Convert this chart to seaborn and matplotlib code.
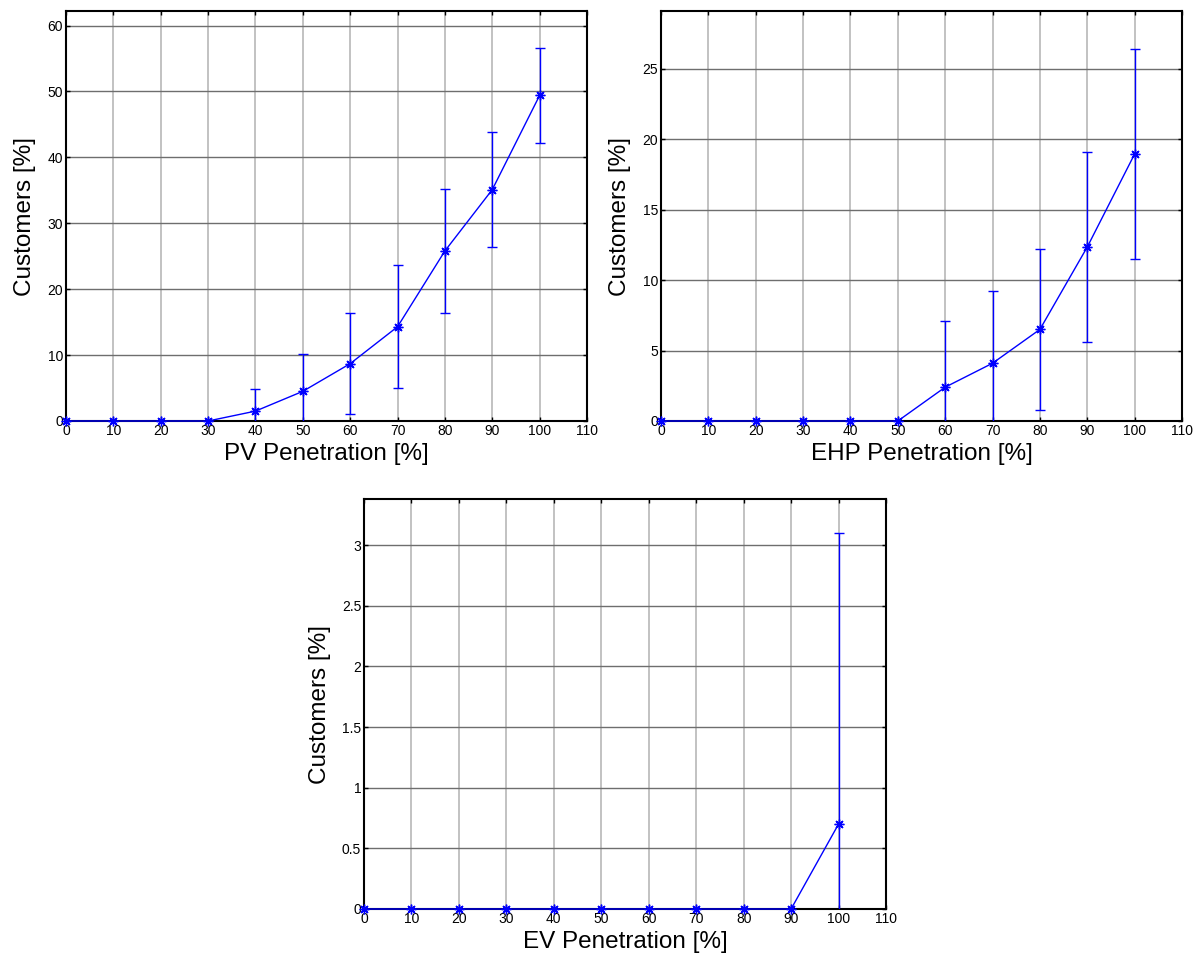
import numpy as np
import pandas as pd
import matplotlib
matplotlib.use("Agg")
import matplotlib.pyplot as plt
import seaborn as sns
from matplotlib.ticker import FuncFormatter, MultipleLocator

# ---- data ----
penetration = [0, 10, 20, 30, 40, 50, 60, 70, 80, 90, 100]

pv_mean = [0, 0, 0, 0, 1.5, 4.5, 8.7, 14.3, 25.8, 35.1, 49.4]
pv_err = [0, 0, 0, 0, 3.4, 5.7, 7.7, 9.3, 9.4, 8.7, 7.2]

ehp_mean = [0, 0, 0, 0, 0, 0, 2.4, 4.1, 6.5, 12.35, 18.95]
ehp_err = [0, 0, 0, 0, 0, 0, 4.7, 5.1, 5.7, 6.75, 7.45]

ev_mean = [0, 0, 0, 0, 0, 0, 0, 0, 0, 0, 0.7]
ev_err = [0, 0, 0, 0, 0, 0, 0, 0, 0, 0, 2.4]

x_labels = ["PV Penetration [%]", "EHP Penetration [%]", "EV Penetration [%]"]
y_label = "Customers [%]"
y_tops = [62.2, 29.1, 3.38]
y_steps = [10, 5, 0.5]

sns.set_theme(style="white")
plt.rcParams["font.family"] = ["Liberation Sans", "DejaVu Sans"]
plt.rcParams["text.color"] = "black"
plt.rcParams["axes.labelcolor"] = "black"
plt.rcParams["xtick.color"] = "black"
plt.rcParams["ytick.color"] = "black"

W, H = 1203, 960
fig = plt.figure(figsize=(W / 100, H / 100), dpi=100)

def rect(l, t, r, b):
    return [l / W, 1 - b / H, (r - l) / W, (b - t) / H]

axes = [
    fig.add_axes(rect(66, 11, 587, 421)),
    fig.add_axes(rect(661, 11, 1182, 421)),
    fig.add_axes(rect(364, 499, 886, 909)),
]

series = [(pv_mean, pv_err), (ehp_mean, ehp_err), (ev_mean, ev_err)]
blue = "#0000ff"
ast = (8, 2, 0)

for ax, (mean, err), xl, ytop, ystep in zip(axes, series, x_labels, y_tops, y_steps):
    df = pd.DataFrame({"x": penetration, "y": mean, "e": err})
    ax.set_xlim(0, 110)
    ax.set_ylim(0, ytop)
    ax.xaxis.set_major_locator(MultipleLocator(10))
    ax.yaxis.set_major_locator(MultipleLocator(ystep))
    ax.yaxis.set_major_formatter(FuncFormatter(lambda v, p: "%g" % v))
    # grid
    for xv in penetration + [110]:
        ax.axvline(xv, color="#b8b8b8", lw=1.2, zorder=0)
    yt = np.arange(0, ytop, ystep)
    for yv in yt:
        ax.axhline(yv, color="#6e6e6e", lw=1.0, zorder=0)
    sub = df[df["e"] > 0]
    ax.errorbar(sub["x"], sub["y"], yerr=sub["e"], fmt="none", ecolor=blue,
                elinewidth=1.0, capsize=3.6, capthick=1.0, zorder=3)
    sns.lineplot(data=df, x="x", y="y", ax=ax, color=blue, lw=1.0,
                 marker=ast, markersize=7, markeredgecolor=blue,
                 markeredgewidth=1.0, zorder=4, clip_on=False)
    ax.set_xlabel(xl, fontsize=17.5, labelpad=4, color="black")
    ax.set_ylabel(y_label, fontsize=17.5, labelpad=8, color="black")
    ax.tick_params(axis="both", which="major", direction="in", length=3,
                   width=1.0, color="black", labelcolor="black", labelsize=10, pad=2,
                   top=True, right=True, bottom=True, left=True)
    for s in ax.spines.values():
        s.set_color("black")
        s.set_linewidth(1.5)
        s.set_visible(True)

fig.savefig("out.png", dpi=100)
